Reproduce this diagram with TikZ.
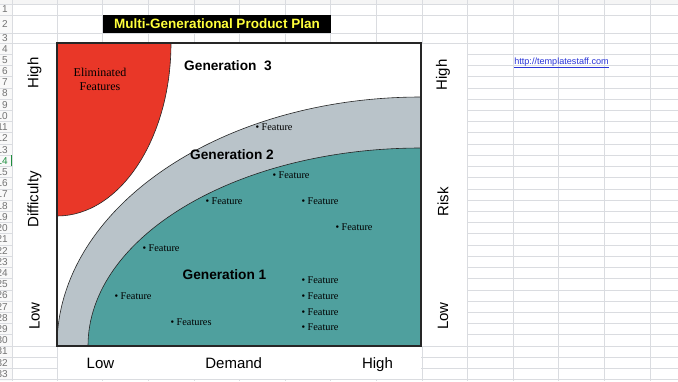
\documentclass[tikz,border=0pt]{standalone}
\usepackage{fontspec}
\setmainfont{Liberation Serif}
\setsansfont{Liberation Sans}
\usepackage{tikz}
\definecolor{elimred}{HTML}{E93728}
\definecolor{gentwo}{HTML}{B9C3C9}
\definecolor{genone}{HTML}{4FA09E}
\definecolor{sheetline}{HTML}{DADCE0}
\definecolor{linkblue}{HTML}{2A35D8}
\definecolor{selgreen}{HTML}{1E8E3E}
\definecolor{titleyellow}{HTML}{FFFF3C}

\begin{document}
\begin{tikzpicture}[x=1pt,y=-1pt,
		sheet/.style={draw=sheetline, line width=0.6pt},
		rownum/.style={anchor=east, inner sep=0pt, text=black!55, font=\sffamily\fontsize{10}{12}\selectfont},
		curve/.style={draw=black!85, line width=0.6pt},
		axislabel/.style={inner sep=0pt, font=\sffamily\fontsize{15}{18}\selectfont},
		genlabel/.style={inner sep=0pt, font=\sffamily\bfseries\fontsize{13.7}{16}\selectfont},
		feat/.style={anchor=west, inner sep=0pt, font=\rmfamily\fontsize{10.3}{12}\selectfont}]
		\useasboundingbox (0,0) rectangle (678,381);
		\clip (0,0) rectangle (678,381);

		%% Spreadsheet behind the plan
		\fill[white] (0,0) rectangle (678,381);
		\fill[gray!8] (0,0) rectangle (678,4);
		\fill[gray!5] (0,4) rectangle (12,381);
		\foreach \y in {4,15,33} \draw[sheet] (0,\y) -- (678,\y);
		\foreach \k in {0,...,30} \draw[sheet] (0,{43+\k*11.22}) -- (678,{43+\k*11.22});
		\draw[sheet] (12,0) -- (12,381);
		\foreach \k in {0,...,13} \draw[sheet] ({57+\k*45.6},0) -- ({57+\k*45.6},381);

		% merged cells round the chart
		\fill[white] (12.5,43.5) rectangle (56.5,345.5);
		\fill[white] (422.3,43.5) rectangle (466.9,345.5);
		\fill[white] (57.5,346.5) rectangle (421.3,379);

		% row numbers
		\node[rownum] (row1) at (8,9.5) {1};
		\node[rownum] (row2) at (8,24) {2};
		\node[rownum] (row3) at (8,38) {3};
		\foreach \r in {4,...,13,15,16,...,33}
			\node[rownum] (row\r) at (8,{43+(\r-4)*11.22+5.61}) {\r};
		\node[rownum, text=selgreen] (row14) at (8,{43+10*11.22+5.61}) {14};
		\fill[selgreen] (10.6,155.2) rectangle (12.3,166.4);

		%% Title
		\node[fill=black, minimum width=228pt, minimum height=18pt, inner sep=0pt,
			text=titleyellow, font=\sffamily\bfseries\fontsize{13.5}{16}\selectfont]
			(title) at (217,24) {Multi-Generational Product Plan};

		\node[anchor=base, inner sep=0pt, text=linkblue, font=\sffamily\fontsize{9.1}{11}\selectfont]
			(link) at (561.5,64) {\underline{http://templatestaff.com}};

		%% Generations
		\fill[white] (57,43) rectangle (421,346);
		\begin{scope}
			\clip (57,43) rectangle (421,346);
			\filldraw[curve, fill=gentwo] (421,346) ellipse [x radius=364pt, y radius=249pt];
			\filldraw[curve, fill=genone] (421,346) ellipse [x radius=333pt, y radius=198pt];
			\filldraw[curve, fill=elimred] (57,43) ellipse [x radius=114pt, y radius=173pt];
		\end{scope}
		\draw[line width=1.4pt, black!85] (57,43) rectangle (421,346);

		\node[align=center, inner sep=0pt, font=\rmfamily\fontsize{12}{13.3}\selectfont]
			(elim) at (100,79.5) {Eliminated\\Features};
		\node[genlabel] (gen3) at (228,66) {Generation\ \ 3};
		\node[genlabel] (gen2) at (232,155) {Generation 2};
		\node[genlabel] (gen1) at (224.5,275) {Generation 1};

		% features
		\node[feat] (f1) at (255.3,127) {\textbullet\ Feature};
		\node[feat] (f2) at (272.3,175) {\textbullet\ Feature};
		\node[feat] (f3) at (205.3,201) {\textbullet\ Feature};
		\node[feat] (f4) at (301.3,201) {\textbullet\ Feature};
		\node[feat] (f5) at (335.3,227) {\textbullet\ Feature};
		\node[feat] (f6) at (142.3,248) {\textbullet\ Feature};
		\node[feat] (f7) at (114.3,296) {\textbullet\ Feature};
		\node[feat] (f8) at (170.3,322) {\textbullet\ Features};
		\node[feat] (f9) at (301.3,280) {\textbullet\ Feature};
		\node[feat] (f10) at (301.3,296) {\textbullet\ Feature};
		\node[feat] (f11) at (301.3,312) {\textbullet\ Feature};
		\node[feat] (f12) at (301.3,327) {\textbullet\ Feature};

		%% Axes
		\node[axislabel, rotate=90] (diffhigh) at (34.5,73) {High};
		\node[axislabel, rotate=90] (diff) at (34.5,199.5) {Difficulty};
		\node[axislabel, rotate=90] (difflow) at (34.5,316) {Low};
		\node[axislabel, rotate=90] (riskhigh) at (443,75) {High};
		\node[axislabel, rotate=90] (risk) at (443,202) {Risk};
		\node[axislabel, rotate=90] (risklow) at (443,316) {Low};
		\node[axislabel, anchor=base] (demlow) at (100.5,368.5) {Low};
		\node[axislabel, anchor=base] (dem) at (233.7,368.5) {Demand};
		\node[axislabel, anchor=base] (demhigh) at (377.5,368.5) {High};
	\end{tikzpicture}
\end{document}
